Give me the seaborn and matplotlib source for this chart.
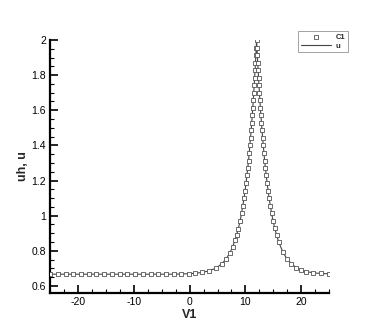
import matplotlib
matplotlib.use("Agg")
import matplotlib.pyplot as plt
from matplotlib.ticker import AutoMinorLocator, MultipleLocator
import seaborn as sns
import pandas as pd

# mesh nodes (V1) and numerical solution (C1 / uh)
v1 = [-25.0, -23.62, -22.23, -20.85, -19.46, -18.08, -16.69, -15.31, -13.92,
      -12.54, -11.15, -9.77, -8.38, -7.0, -5.61, -4.23, -2.84, -1.53, -0.17,
      1.03, 2.21, 3.5, 4.7, 5.77, 6.53, 7.24, 7.72, 8.13, 8.43, 8.72,
      9.05, 9.31, 9.54, 9.75, 9.94, 10.11, 10.27, 10.42, 10.56, 10.68, 10.8,
      10.92, 11.03, 11.13, 11.23, 11.32, 11.41, 11.49, 11.57, 11.65, 11.73,
      11.8, 11.87, 11.94, 12.0,
      12.07, 12.13, 12.2, 12.28, 12.35, 12.43, 12.51, 12.59, 12.68, 12.78,
      12.87, 12.98, 13.08, 13.2, 13.32, 13.44, 13.58, 13.73, 13.89, 14.06,
      14.25, 14.46, 14.69, 14.95, 15.26, 15.6, 15.99, 16.7, 17.4, 18.2,
      19.1, 20.0, 20.9, 22.1, 23.6, 25.0]
c1 = [0.667, 0.667, 0.667, 0.667, 0.667, 0.667, 0.667, 0.667, 0.667,
      0.667, 0.667, 0.667, 0.667, 0.667, 0.667, 0.667, 0.667, 0.668, 0.670,
      0.672, 0.677, 0.686, 0.701, 0.726, 0.753, 0.790, 0.824, 0.859, 0.890, 0.925,
      0.971, 1.014, 1.057, 1.100, 1.143, 1.186, 1.229, 1.271, 1.314, 1.357, 1.400,
      1.443, 1.486, 1.529, 1.571, 1.614, 1.657, 1.700, 1.743, 1.786, 1.829,
      1.871, 1.914, 1.957, 2.0,
      1.957, 1.914, 1.871, 1.829, 1.786, 1.743, 1.700, 1.657, 1.614, 1.571,
      1.529, 1.486, 1.443, 1.400, 1.357, 1.314, 1.271, 1.229, 1.186, 1.143,
      1.100, 1.057, 1.014, 0.971, 0.928, 0.888, 0.848, 0.794, 0.756, 0.727,
      0.705, 0.691, 0.682, 0.675, 0.671, 0.669]
# exact solution u sampled at the same nodes
u = list(c1)

df = pd.DataFrame({"V1": v1, "C1": c1, "u": u})

sns.set_style("ticks")
plt.rcParams["font.family"] = ["Liberation Sans", "DejaVu Sans"]
plt.rcParams["axes.unicode_minus"] = False

fig = plt.figure(figsize=(3.74, 3.32), dpi=100)
ax = fig.add_axes([0.134, 0.1175, 0.746, 0.762])

sns.lineplot(data=df, x="V1", y="u", ax=ax, color="#444444", linewidth=0.8,
             sort=False, estimator=None, label="u", zorder=2)
sns.scatterplot(data=df, x="V1", y="C1", ax=ax, marker="s", s=10,
                facecolor="white", edgecolor="#555555", linewidth=0.6,
                label="C1", zorder=3)

ax.set_xlim(-25, 25)
ax.set_ylim(0.56, 2.0)
ax.xaxis.set_major_locator(MultipleLocator(10))
ax.yaxis.set_major_locator(MultipleLocator(0.2))
ax.xaxis.set_minor_locator(AutoMinorLocator(4))
ax.yaxis.set_minor_locator(AutoMinorLocator(4))
ax.yaxis.set_major_formatter(plt.FuncFormatter(lambda v, p: f"{v:g}"))
ax.tick_params(which="major", direction="in", length=6, width=1.2, labelsize=7.5,
               pad=3, color="black", labelcolor="black")
ax.tick_params(which="minor", direction="in", length=3, width=0.8, color="black")
for side in ["top", "right"]:
    ax.spines[side].set_visible(False)
for side in ["left", "bottom"]:
    ax.spines[side].set_linewidth(1.6)
    ax.spines[side].set_color("black")

ax.set_xlabel("V1", fontsize=9, fontweight="bold", labelpad=1)
ax.set_ylabel("uh, u", fontsize=9, fontweight="bold", labelpad=2)

handles, labels = ax.get_legend_handles_labels()
ax.legend_.remove()
order = [labels.index("C1"), labels.index("u")]
leg = fig.legend([handles[i] for i in order], [labels[i] for i in order],
                 loc="upper right", bbox_to_anchor=(0.94, 0.918),
                 fontsize=5.5, frameon=True, fancybox=False, handlelength=4.0,
                 handletextpad=0.6, borderpad=0.3, labelspacing=0.2,
                 edgecolor="#777777", markerscale=1.0)
leg.get_frame().set_linewidth(0.6)
for t in leg.get_texts():
    t.set_fontweight("bold")

fig.savefig("out.png", dpi=100)
